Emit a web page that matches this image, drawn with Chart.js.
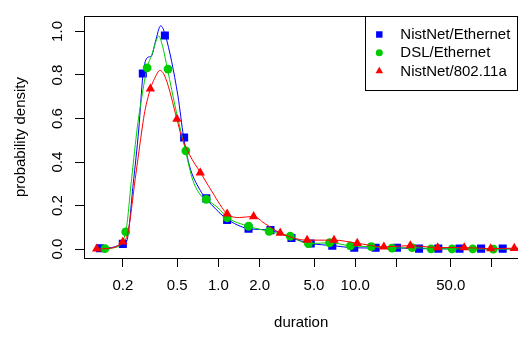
<!DOCTYPE html>
<html><head><meta charset="utf-8">
<script src="https://cdn.jsdelivr.net/npm/chart.js@4/dist/chart.umd.min.js"></script>
<style>html,body{margin:0;padding:0;overflow:hidden;background:#fff;width:518px;height:337px}canvas{display:block}</style>
</head><body>
<canvas id="c" width="524" height="337" style="width:524px;height:337px"></canvas>
<script>
// ---- data ----
const seriesNames = ['NistNet/Ethernet', 'DSL/Ethernet', 'NistNet/802.11a'];
const xAxisTitle = 'duration';
const yAxisTitle = 'probability density';
const xTickValues = [0.2, 0.5, 1, 2, 5, 10, 20, 50, 100];
const xTickLabels = ['0.2', '0.5', '1.0', '2.0', '5.0', '10.0', '', '50.0', ''];
const yTickValues = [0, 0.2, 0.4, 0.6, 0.8, 1.0];
const yTickLabels = ['0.0', '0.2', '0.4', '0.6', '0.8', '1.0'];

// marker points
const blueMarkX = [0.136, 0.200, 0.280, 0.406, 0.561, 0.815, 1.158, 1.66, 2.40, 3.42, 4.73, 6.80, 9.84, 14.1, 20.2, 29.3, 40.5, 57.9, 83.3, 119.8];
const blueMarkY = [0.004, 0.024, 0.807, 0.981, 0.513, 0.233, 0.134, 0.094, 0.087, 0.051, 0.026, 0.016, 0.006, 0.006, 0.006, 0.002, 0.002, 0.002, 0.002, 0.002];
const greenMarkX = [0.148, 0.210, 0.301, 0.428, 0.578, 0.815, 1.158, 1.66, 2.35, 3.35, 4.55, 6.49, 9.23, 13.1, 18.6, 26.1, 35.9, 51.1, 72.4, 102.4];
const greenMarkY = [0.002, 0.079, 0.833, 0.827, 0.451, 0.228, 0.144, 0.105, 0.081, 0.059, 0.025, 0.029, 0.015, 0.011, 0.004, 0.007, 0.001, 0.001, 0.001, 0.000];
const redMarkX = [0.1287, 0.200, 0.318, 0.497, 0.736, 1.158, 1.808, 2.83, 4.45, 7.00, 10.35, 16.2, 25.3, 40.1, 62.7, 97.9, 145.6];
const redMarkY = [0.001, 0.033, 0.736, 0.597, 0.351, 0.162, 0.150, 0.074, 0.041, 0.041, 0.027, 0.010, 0.016, 0.007, 0.007, 0.002, 0.004];

// density curves
const blueCurveX = [0.136, 0.166, 0.200, 0.2139, 0.2384, 0.2616, 0.2811, 0.3026, 0.3236, 0.3461, 0.3783, 0.4093, 0.5056, 0.5563, 0.6152, 0.7277, 0.815, 0.9627, 1.138, 1.66, 2.40, 3.42, 4.73, 6.80, 9.84, 14.1, 20.2, 29.3, 57.9, 119.8, 160];
const blueCurveY = [0.004, 0.007, 0.024, 0.038, 0.302, 0.552, 0.805, 0.880, 0.887, 0.953, 1.026, 0.982, 0.704, 0.514, 0.381, 0.275, 0.231, 0.182, 0.141, 0.094, 0.087, 0.051, 0.026, 0.016, 0.006, 0.005, 0.005, 0.002, 0.001, 0.001, 0.001];
const greenCurveX = [0.148, 0.1749, 0.210, 0.2318, 0.2559, 0.275, 0.301, 0.3268, 0.3520, 0.3658, 0.3932, 0.4232, 0.4922, 0.5752, 0.650, 0.769, 0.8222, 0.989, 1.17, 1.66, 2.35, 3.35, 4.55, 6.49, 9.23, 13.1, 18.6, 26.1, 35.9, 51.1, 72.4, 102.4, 160];
const greenCurveY = [0.002, 0.007, 0.079, 0.324, 0.565, 0.697, 0.833, 0.895, 0.960, 0.979, 0.924, 0.829, 0.631, 0.451, 0.316, 0.236, 0.226, 0.190, 0.144, 0.105, 0.081, 0.059, 0.025, 0.029, 0.015, 0.011, 0.004, 0.007, 0.002, 0.001, 0.001, 0.000, 0.000];
const redCurveX = [0.1287, 0.157, 0.200, 0.2175, 0.2466, 0.2783, 0.2892, 0.318, 0.342, 0.3738, 0.4113, 0.497, 0.535, 0.6152, 0.7399, 0.9093, 1.158, 1.423, 1.808, 2.164, 2.83, 4.45, 7.00, 10.35, 16.2, 25.3, 40.1, 62.7, 97.9, 145.6, 160];
const redCurveY = [0.001, 0.003, 0.033, 0.073, 0.324, 0.565, 0.631, 0.736, 0.785, 0.821, 0.785, 0.597, 0.521, 0.433, 0.351, 0.258, 0.162, 0.145, 0.150, 0.119, 0.074, 0.041, 0.041, 0.027, 0.010, 0.016, 0.007, 0.007, 0.002, 0.004, 0.004];

// ---- chart ----
const colors = ['#0000FF', '#00CD00', '#FF0000'];
const styles = ['rect', 'circle', 'triangle'];
const radii = [5.7, 4.4, 5.4];
const zip = (xs, ys) => xs.map((x, i) => ({x, y: ys[i]}));
const markX = [blueMarkX, greenMarkX, redMarkX], markY = [blueMarkY, greenMarkY, redMarkY];
const curveX = [blueCurveX, greenCurveX, redCurveX], curveY = [blueCurveY, greenCurveY, redCurveY];

const datasets = [];
for (let i = 0; i < 3; i++) {
  datasets.push({
    label: seriesNames[i] + ' curve', data: zip(curveX[i], curveY[i]), showLine: true,
    borderColor: colors[i], borderWidth: 1, pointRadius: 0, cubicInterpolationMode: 'monotone',
    order: 5 - 2 * i, isLegend: false
  });
  datasets.push({
    label: seriesNames[i], data: zip(markX[i], markY[i]), showLine: false,
    pointStyle: styles[i], pointRadius: radii[i], pointBackgroundColor: colors[i],
    pointBorderColor: colors[i], pointBorderWidth: 0, order: 4 - 2 * i, isLegend: true
  });
}

Chart.defaults.font.family = "'Liberation Sans', Arial, sans-serif";
Chart.defaults.font.size = 15;
Chart.defaults.color = '#000';

const boxPlugin = {
  id: 'rbox',
  afterDraw(chart) {
    const ctx = chart.ctx, a = chart.chartArea;
    ctx.save();
    ctx.strokeStyle = '#000'; ctx.lineWidth = 1;
    ctx.strokeRect(Math.round(a.left) + 0.5, Math.round(a.top) + 0.5, Math.round(a.right - a.left), Math.round(a.bottom - a.top));
    // legend
    const lx = a.right - 153, ly = a.top, lw = 153, lh = 74;
    ctx.fillStyle = '#fff';
    ctx.fillRect(lx, ly, lw, lh);
    ctx.strokeRect(Math.round(lx) + 0.5, Math.round(ly) + 0.5, lw - 1, lh);
    const legendSets = chart.data.datasets.filter(d => d.isLegend);
    ctx.textBaseline = 'middle'; ctx.textAlign = 'left';
    ctx.font = "15px 'Liberation Sans', Arial, sans-serif";
    legendSets.forEach((d, i) => {
      const cy = ly + 18.5 + i * 18.3;
      ctx.fillStyle = d.pointBackgroundColor; ctx.strokeStyle = d.pointBackgroundColor;
      Chart.helpers.drawPoint(ctx, {pointStyle: d.pointStyle, radius: d.pointRadius * 0.8, borderWidth: 0, rotation: 0}, lx + 14, cy);
      ctx.fillStyle = '#000';
      ctx.fillText(d.label, lx + 35, cy + 0.5);
    });
    ctx.restore();
  }
};

new Chart(document.getElementById('c'), {
  type: 'scatter',
  data: {datasets},
  plugins: [boxPlugin],
  options: {
    responsive: false, animation: false, devicePixelRatio: 1,
    layout: {padding: {top: 5, right: 4, left: 0, bottom: 0}},
    plugins: {legend: {display: false}, tooltip: {enabled: false}},
    scales: {
      x: {
        type: 'logarithmic', min: 0.104, max: 155.8, bounds: 'data',
        afterBuildTicks: s => { s.ticks = xTickValues.map(v => ({value: v})); },
        afterFit: s => { s.height = 79; },
        ticks: {autoSkip: false, maxRotation: 0, minRotation: 0, padding: 10,
          callback: (v, i) => xTickLabels[i]},
        grid: {drawOnChartArea: false, drawTicks: true, tickLength: 9, color: '#000', lineWidth: 1},
        border: {display: false},
        title: {display: true, text: xAxisTitle, padding: {top: 0, bottom: 5}}
      },
      y: {
        type: 'linear', min: -0.041, max: 1.071, bounds: 'data',
        afterBuildTicks: s => { s.ticks = yTickValues.map(v => ({value: v})); },
        afterFit: s => { s.width = 84; },
        ticks: {autoSkip: false, minRotation: 90, maxRotation: 90, crossAlign: 'center', padding: 7,
          callback: (v, i) => yTickLabels[i]},
        grid: {drawOnChartArea: false, drawTicks: true, tickLength: 9, color: '#000', lineWidth: 1},
        border: {display: false},
        title: {display: true, text: yAxisTitle, padding: {top: 12, bottom: 0}}
      }
    }
  }
});
</script></body></html>
